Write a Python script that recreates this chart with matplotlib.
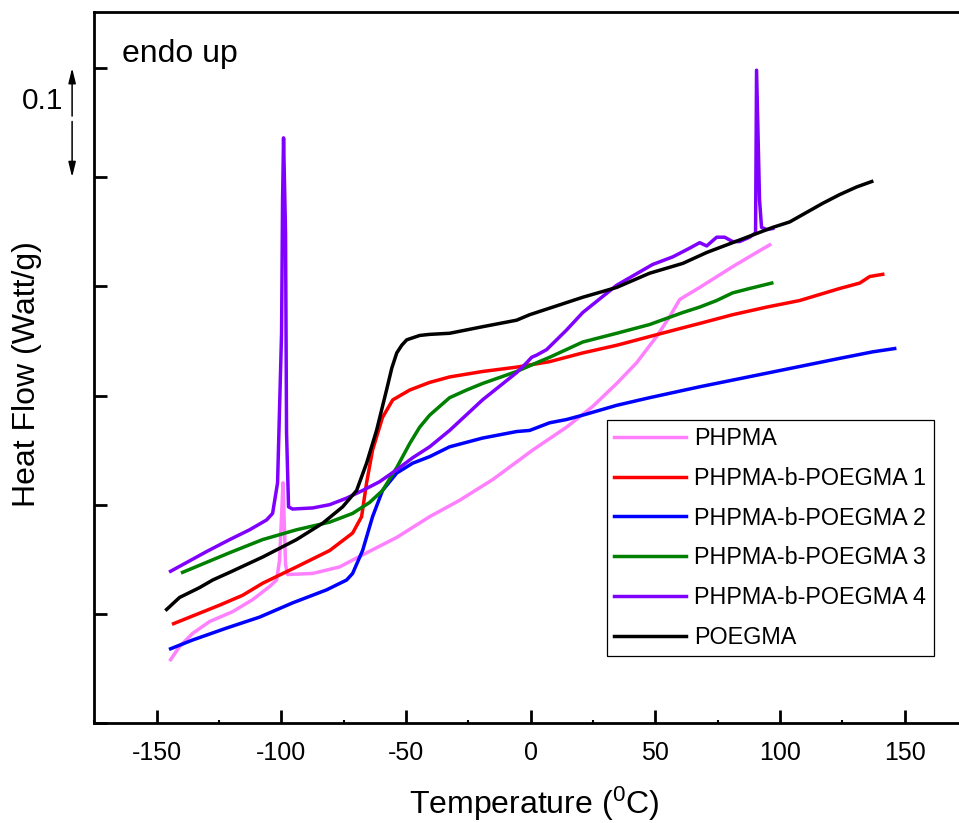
import matplotlib
matplotlib.use('Agg')
import matplotlib.pyplot as plt
from matplotlib.ticker import MultipleLocator, NullFormatter

plt.rcParams['font.family'] = ['Liberation Sans', 'DejaVu Sans']
plt.rcParams['mathtext.default'] = 'regular'
plt.rcParams['axes.unicode_minus'] = False

# ---- data (temperature in C, heat flow in W/g, offset) ----
phpma_t = [-144.4, -140.8, -135.6, -128.7, -119.5, -111.5, -104.7, -101.9, -100.7, -99.9,
           -99.3, -98.9, -98.3, -97.5, -87.4, -76.6, -67.4, -53.7, -40.5, -28.5, -15.2,
           0.8, 14.4, 24.9, 34.5, 42.5, 50.5, 55.7, 59.8, 67.8, 81.0, 90.6, 95.9]
phpma_hf = [0.058, 0.070, 0.082, 0.093, 0.102, 0.113, 0.125, 0.131, 0.149, 0.190,
            0.220, 0.190, 0.145, 0.136, 0.137, 0.143, 0.154, 0.170, 0.189, 0.204, 0.223,
            0.250, 0.271, 0.290, 0.311, 0.330, 0.354, 0.372, 0.388, 0.399, 0.418, 0.431, 0.438]

b1_t = [-143.2, -135.6, -124.7, -115.5, -107.5, -93.9, -80.6, -71.4, -67.8, -65.8, -63.4,
        -59.4, -55.3, -48.5, -40.5, -32.5, -19.3, -5.6, 7.6, 20.9, 34.5, 47.7, 61.0, 67.8,
        81.0, 94.7, 107.9, 123.9, 132.0, 136.0, 141.2]
b1_hf = [0.091, 0.098, 0.108, 0.117, 0.128, 0.143, 0.158, 0.174, 0.189, 0.220, 0.250,
         0.280, 0.296, 0.305, 0.312, 0.317, 0.322, 0.326, 0.331, 0.339, 0.346, 0.354, 0.362,
         0.366, 0.374, 0.381, 0.387, 0.398, 0.403, 0.409, 0.411]

b2_t = [-144.4, -135.6, -121.9, -108.7, -95.5, -81.8, -73.8, -71.4, -67.4, -63.4, -59.4,
        -53.7, -47.3, -40.5, -32.5, -19.3, -5.6, -0.4, 7.6, 14.4, 20.9, 34.5, 47.7, 67.8,
        95.9, 123.9, 137.2, 146.0]
b2_hf = [0.068, 0.076, 0.087, 0.097, 0.110, 0.122, 0.131, 0.137, 0.158, 0.189, 0.213,
         0.229, 0.238, 0.244, 0.253, 0.261, 0.267, 0.268, 0.275, 0.278, 0.282, 0.291, 0.298,
         0.308, 0.321, 0.334, 0.340, 0.343]

b3_t = [-139.6, -120.7, -107.5, -93.9, -80.6, -71.4, -64.6, -59.4, -53.7, -48.5, -44.5,
        -40.5, -32.5, -25.7, -19.3, -5.6, 2.4, 7.6, 20.9, 34.5, 47.7, 61.0, 67.8, 74.6,
        81.0, 87.8, 96.7]
b3_hf = [0.138, 0.156, 0.168, 0.177, 0.184, 0.192, 0.202, 0.213, 0.234, 0.256, 0.271,
         0.282, 0.298, 0.305, 0.311, 0.322, 0.330, 0.335, 0.349, 0.357, 0.365, 0.376, 0.381,
         0.387, 0.394, 0.398, 0.403]

b4_t = [-144.4, -130.0, -120.7, -112.7, -105.9, -103.5, -101.5, -99.9, -99.5, -99.1, -98.3,
        -97.9, -97.1, -95.5, -87.4, -80.6, -73.8, -67.4, -60.6, -53.7, -47.3, -40.5, -32.5,
        -19.3, -5.6, -1.6, 0.4, 2.4, 6.4, 14.4, 20.9, 34.5, 48.9, 57.0, 63.8, 67.8, 70.6,
        74.6, 77.8, 81.0, 83.8, 87.8, 90.2, 90.6, 91.8, 92.6, 94.7, 97.1]
b4_hf = [0.139, 0.157, 0.168, 0.177, 0.186, 0.192, 0.220, 0.357, 0.479, 0.536, 0.449,
         0.266, 0.198, 0.196, 0.197, 0.200, 0.206, 0.213, 0.221, 0.232, 0.243, 0.253, 0.268,
         0.296, 0.321, 0.330, 0.335, 0.337, 0.342, 0.360, 0.376, 0.401, 0.420, 0.427, 0.435,
         0.440, 0.437, 0.445, 0.445, 0.441, 0.441, 0.445, 0.449, 0.598, 0.479, 0.454, 0.452,
         0.453]

poegma_t = [-146.0, -140.8, -132.8, -127.5, -120.7, -107.5, -93.9, -83.4, -75.4, -69.8,
            -65.8, -61.8, -57.8, -55.7, -53.7, -51.7, -49.7, -44.5, -40.5, -32.5, -19.3,
            -5.6, -0.4, 7.6, 20.9, 34.5, 47.7, 61.0, 70.6, 81.0, 97.1, 103.9, 117.1, 123.9,
            130.7, 136.8]
poegma_hf = [0.104, 0.115, 0.124, 0.131, 0.138, 0.152, 0.168, 0.183, 0.198, 0.213, 0.238,
             0.268, 0.305, 0.325, 0.339, 0.346, 0.351, 0.355, 0.356, 0.357, 0.363, 0.369,
             0.374, 0.380, 0.390, 0.399, 0.412, 0.421, 0.431, 0.440, 0.454, 0.459, 0.476,
             0.484, 0.491, 0.496]

labels = ['PHPMA', 'PHPMA-b-POEGMA 1', 'PHPMA-b-POEGMA 2',
          'PHPMA-b-POEGMA 3', 'PHPMA-b-POEGMA 4', 'POEGMA']
colors = ['#FF80FF', '#FF0000', '#0000FF', '#008000', '#8000FF', '#000000']

W, H = 959, 823
fig = plt.figure(figsize=(W / 100, H / 100), dpi=100)
# axes box in pixels: left 94, bottom 723, top 12, right spine off the picture
x0, x1, ytop, ybot = 94.3, 967.0, 12.0, 723.0
ax = fig.add_axes([x0 / W, 1 - ybot / H, (x1 - x0) / W, (ybot - ytop) / H])

series = [(phpma_t, phpma_hf), (b1_t, b1_hf), (b2_t, b2_hf),
          (b3_t, b3_hf), (b4_t, b4_hf), (poegma_t, poegma_hf)]
for (t, hf), lab, c in zip(series, labels, colors):
    ax.plot(t, hf, color=c, lw=2.5, label=lab, solid_joinstyle='round')

ax.set_xlim(-175, 175)
ax.set_ylim(0, 0.6513)

ax.xaxis.set_major_locator(MultipleLocator(50))
ax.xaxis.set_minor_locator(MultipleLocator(25))
ax.yaxis.set_major_locator(MultipleLocator(0.1))
ax.yaxis.set_major_formatter(NullFormatter())
ax.tick_params(which='major', direction='in', length=9.4, width=2.0, labelsize=18, pad=13)
ax.tick_params(which='minor', direction='in', length=2.0, width=1.5)
ax.tick_params(axis='y', which='minor', length=0)

for s in ['left', 'bottom', 'top', 'right']:
    ax.spines[s].set_linewidth(2.0)

ax.set_xlabel('Temperature ($^0$C)', fontsize=23)
ax.set_ylabel('Heat Flow (Watt/g)', fontsize=23)
ax.xaxis.set_label_coords((534.5 - x0) / (x1 - x0), (ybot - 785) / (ybot - ytop))
ax.yaxis.set_label_coords((42 - x0) / (x1 - x0), (ybot - 374) / (ybot - ytop))

ax.text(-163.9, 0.6055, 'endo up', fontsize=23, va='baseline', ha='left')

# 0.1 W/g scale bar outside the axis
ax.text(-187.6, 0.570, '0.1', fontsize=21.5, va='center', ha='right', clip_on=False)
arrow = dict(arrowstyle='-|>,head_length=0.9,head_width=0.22', lw=1.1, color='k',
             shrinkA=0, shrinkB=0)
ax.annotate('', xy=(-183.9, 0.6), xytext=(-183.9, 0.556), arrowprops=arrow,
            annotation_clip=False)
ax.annotate('', xy=(-183.9, 0.5), xytext=(-183.9, 0.551), arrowprops=arrow,
            annotation_clip=False)

leg = ax.legend(loc='upper left', bbox_to_anchor=(607 / W, 1 - 420 / H),
                bbox_transform=fig.transFigure, fontsize=16.8, frameon=True,
                fancybox=False, framealpha=1, edgecolor='black', borderpad=0.3,
                handlelength=3.1, handletextpad=0.35, labelspacing=0.72,
                borderaxespad=0)
leg.get_frame().set_linewidth(0.9)

fig.savefig('out.png', dpi=100)
